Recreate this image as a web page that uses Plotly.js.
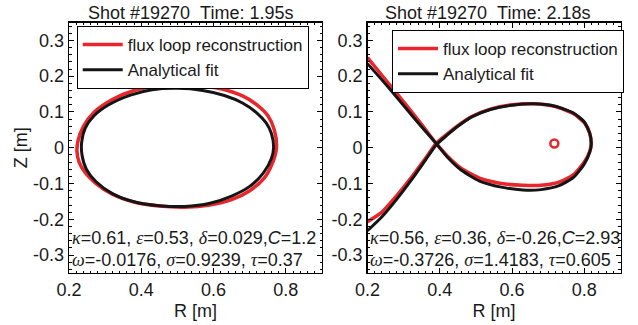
<!DOCTYPE html>
<html>
<head>
<meta charset="utf-8">
<script src="https://cdn.plot.ly/plotly-3.0.1.min.js"></script>
<style>html,body{margin:0;padding:0;background:#fff;}#plot{width:638px;height:325px;}</style>
</head>
<body>
<div id="plot"></div>
<script>
// ---- Data ----
// Left panel (t = 1.95 s)
const leftRedR   = [0.774,0.768,0.750,0.720,0.680,0.620,0.550,0.500,0.440,0.380,0.320,0.270,0.240,0.225,0.222,0.228,0.245,0.275,0.320,0.380,0.450,0.520,0.590,0.650,0.700,0.740,0.762,0.774];
const leftRedZ   = [0.000,0.050,0.090,0.120,0.145,0.165,0.174,0.175,0.172,0.160,0.135,0.100,0.060,0.020,-0.010,-0.040,-0.070,-0.100,-0.130,-0.152,-0.163,-0.166,-0.160,-0.145,-0.120,-0.085,-0.045,0.000];
const leftBlackR = [0.766,0.760,0.745,0.720,0.680,0.630,0.570,0.500,0.430,0.370,0.310,0.270,0.245,0.235,0.236,0.248,0.275,0.320,0.380,0.450,0.520,0.590,0.650,0.700,0.738,0.760,0.766];
const leftBlackZ = [0.000,0.040,0.070,0.097,0.125,0.146,0.160,0.166,0.162,0.147,0.120,0.090,0.055,0.015,-0.020,-0.060,-0.095,-0.128,-0.151,-0.162,-0.164,-0.155,-0.135,-0.108,-0.070,-0.030,0.000];
// Right panel (t = 2.18 s)
const rightRedR   = [0.200,0.250,0.300,0.350,0.390,0.420,0.460,0.510,0.570,0.630,0.680,0.730,0.770,0.800,0.815,0.819,0.815,0.800,0.770,0.720,0.660,0.600,0.540,0.490,0.450,0.420,0.390,0.360,0.320,0.280,0.240,0.200];
const rightRedZ   = [0.252,0.190,0.128,0.065,0.012,-0.022,-0.058,-0.085,-0.100,-0.105,-0.105,-0.096,-0.075,-0.040,-0.010,0.010,0.040,0.070,0.095,0.115,0.123,0.120,0.108,0.088,0.062,0.038,0.012,-0.030,-0.085,-0.135,-0.180,-0.207];
const rightBlackR = [0.200,0.250,0.300,0.350,0.390,0.420,0.460,0.510,0.570,0.630,0.680,0.730,0.770,0.800,0.815,0.819,0.815,0.800,0.770,0.720,0.660,0.600,0.540,0.490,0.450,0.420,0.390,0.360,0.320,0.280,0.240,0.200];
const rightBlackZ = [0.235,0.178,0.118,0.058,0.012,-0.025,-0.063,-0.093,-0.110,-0.118,-0.117,-0.106,-0.083,-0.045,-0.012,0.010,0.040,0.072,0.097,0.116,0.123,0.119,0.107,0.087,0.060,0.035,0.008,-0.035,-0.092,-0.145,-0.193,-0.232];
const oPointR = [0.717];
const oPointZ = [0.012];

const seriesNames = ['flux loop reconstruction', 'Analytical fit'];
const panelTitles = ['Shot #19270\u00a0\u00a0Time: 1.95s', 'Shot #19270\u00a0\u00a0Time: 2.18s'];
const xTickVals = [0.2, 0.4, 0.6, 0.8];
const xTickText = ['0.2', '0.4', '0.6', '0.8'];
const yTickVals = [-0.3, -0.2, -0.1, 0, 0.1, 0.2, 0.3];
const yTickText = ['-0.3', '-0.2', '-0.1', '0', '0.1', '0.2', '0.3'];
const xTitle = 'R [m]';
const yTitle = 'Z [m]';
const leftParams  = [['κ','=0.61, '],['ε','=0.53, '],['δ','=0.029,'],['C','=1.2']];
const leftParams2 = [['ω','=-0.0176, '],['σ','=0.9239, '],['τ','=0.37']];
const rightParams  = [['κ','=0.56, '],['ε','=0.36, '],['δ','=-0.26,'],['C','=2.93']];
const rightParams2 = [['ω','=-0.3726, '],['σ','=1.4183, '],['τ','=0.605']];

// ---- Styling ----
const FONT = 'Liberation Sans, Arial, sans-serif';
const TXT = '#1a1a1a';
const RED = '#e8262b';
const BLK = '#151515';

function sym(c) {
  if (c === 'C') return '<i>C</i>';
  return '<span style="font-family:Liberation Serif, Times New Roman, serif"><i>' + c + '</i></span>';
}
function paramText(list) { return list.map(p => sym(p[0]) + p[1]).join(''); }

const traces = [
  {x: leftRedR, y: leftRedZ, xaxis: 'x', yaxis: 'y', mode: 'lines', name: seriesNames[0],
   line: {color: RED, width: 3.5, shape: 'spline', smoothing: 0.8}, legend: 'legend'},
  {x: leftBlackR, y: leftBlackZ, xaxis: 'x', yaxis: 'y', mode: 'lines', name: seriesNames[1],
   line: {color: BLK, width: 3, shape: 'spline', smoothing: 0.8}, legend: 'legend'},
  {x: rightRedR, y: rightRedZ, xaxis: 'x2', yaxis: 'y2', mode: 'lines', name: seriesNames[0],
   line: {color: RED, width: 3.5, shape: 'spline', smoothing: 0.6}, legend: 'legend2'},
  {x: rightBlackR, y: rightBlackZ, xaxis: 'x2', yaxis: 'y2', mode: 'lines', name: seriesNames[1],
   line: {color: BLK, width: 3, shape: 'spline', smoothing: 0.6}, legend: 'legend2'},
  {x: oPointR, y: oPointZ, xaxis: 'x2', yaxis: 'y2', mode: 'markers', showlegend: false,
   marker: {symbol: 'circle-open', size: 8, color: RED, line: {color: RED, width: 2.5}}}
];

function xAxis(domain, anchor) {
  return {
    domain: domain, anchor: anchor, range: [0.2, 0.9],
    tickmode: 'array', tickvals: xTickVals, ticktext: xTickText,
    ticks: 'inside', ticklen: 5, tickwidth: 1, tickcolor: '#000',
    minor: {dtick: 0.02, tick0: 0, ticks: 'inside', ticklen: 2.5, tickcolor: '#000', tickwidth: 1},
    showline: true, linecolor: '#000', linewidth: 1.3, mirror: 'ticks',
    showgrid: false, zeroline: false,
    tickfont: {family: FONT, size: 18, color: TXT},
    title: {text: xTitle, font: {family: FONT, size: 18, color: TXT}, standoff: 5},
    fixedrange: true
  };
}
function yAxis(anchor, withTitle) {
  return {
    domain: [52/325, 302.5/325], anchor: anchor, range: [-0.35, 0.35],
    tickmode: 'array', tickvals: yTickVals, ticktext: yTickText,
    ticks: 'inside', ticklen: 5, tickwidth: 1, tickcolor: '#000',
    minor: {dtick: 0.02, tick0: 0, ticks: 'inside', ticklen: 2.5, tickcolor: '#000', tickwidth: 1},
    showline: true, linecolor: '#000', linewidth: 1.3, mirror: 'ticks',
    showgrid: false, zeroline: false,
    tickfont: {family: FONT, size: 18, color: TXT},
    title: withTitle ? {text: yTitle, font: {family: FONT, size: 18, color: TXT}, standoff: 0} : {text: ''},
    fixedrange: true
  };
}

const legendCommon = {
  bgcolor: '#fff', bordercolor: '#000', borderwidth: 1,
  font: {family: FONT, size: 17, color: TXT},
  xanchor: 'left', yanchor: 'top', tracegroupgap: 0, itemwidth: 40
};

const annFont = {family: FONT, size: 18, color: TXT};
const annotations = [
  {text: panelTitles[0], xref: 'paper', yref: 'paper', x: 190/638, y: 1 - 13/325, xanchor: 'center', yanchor: 'middle', showarrow: false, font: annFont},
  {text: panelTitles[1], xref: 'paper', yref: 'paper', x: 487/638, y: 1 - 13/325, xanchor: 'center', yanchor: 'middle', showarrow: false, font: annFont},
  {text: paramText(leftParams),  xref: 'x domain', yref: 'y domain', x: 0.005, y: 0.141, xanchor: 'left', yanchor: 'middle', showarrow: false, font: annFont},
  {text: paramText(leftParams2), xref: 'x domain', yref: 'y domain', x: 0.005, y: 0.05, xanchor: 'left', yanchor: 'middle', showarrow: false, font: annFont},
  {text: paramText(rightParams),  xref: 'x2 domain', yref: 'y2 domain', x: 0.0, y: 0.141, xanchor: 'left', yanchor: 'middle', showarrow: false, font: annFont},
  {text: paramText(rightParams2), xref: 'x2 domain', yref: 'y2 domain', x: 0.0, y: 0.05, xanchor: 'left', yanchor: 'middle', showarrow: false, font: annFont}
];

const layout = {
  width: 638, height: 325, autosize: false,
  margin: {l: 0, r: 0, t: 0, b: 0, pad: 0},
  paper_bgcolor: '#fff', plot_bgcolor: '#fff',
  font: {family: FONT, size: 18, color: TXT},
  showlegend: true,
  xaxis: xAxis([69/638, 322/638], 'y'),
  yaxis: yAxis('x', true),
  xaxis2: xAxis([367.5/638, 620.5/638], 'y2'),
  yaxis2: yAxis('x2', false),
  legend: Object.assign({x: 76.7/638, y: 1 - 26/325}, legendCommon),
  legend2: Object.assign({x: 392/638, y: 1 - 30/325}, legendCommon),
  annotations: annotations
};

Plotly.newPlot('plot', traces, layout, {staticPlot: true, displayModeBar: false});
</script>
</body>
</html>
